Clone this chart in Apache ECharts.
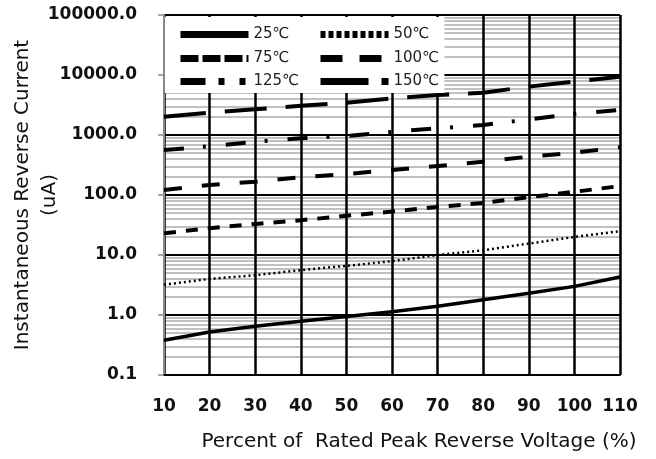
<!DOCTYPE html>
<html>
<head>
<meta charset="utf-8">
<script src="https://cdn.jsdelivr.net/npm/echarts@6/dist/echarts.min.js"></script>
<style>html,body{margin:0;padding:0;background:#fff}#c{width:656px;height:459px}</style>
</head>
<body>
<div id="c"></div>
<script>
const voltagePct = [10, 20, 30, 40, 50, 60, 70, 80, 90, 100, 110];
const seriesNames = ['25℃', '50℃', '75℃', '100℃', '125℃', '150℃'];
const t25  = [0.38, 0.52, 0.65, 0.79, 0.94, 1.13, 1.4, 1.8, 2.3, 3.0, 4.3];
const t50  = [3.2, 4.0, 4.6, 5.6, 6.6, 7.9, 10, 12, 15.5, 20, 25];
const t75  = [23, 28, 33, 38, 45, 53, 63, 74, 92, 113, 141];
const t100 = [121, 147, 167, 197, 224, 261, 304, 359, 435, 508, 623];
const t125 = [560, 650, 770, 880, 960, 1130, 1290, 1470, 1820, 2240, 2610];
const t150 = [2020, 2350, 2680, 3080, 3450, 4080, 4640, 5080, 6400, 7740, 9380];
const xTicks = [10, 20, 30, 40, 50, 60, 70, 80, 90, 100, 110];
const yTicks = [0.1, 1, 10, 100, 1000, 10000, 100000];
const minorMultipliers = [2, 3, 4, 5, 6, 7, 8, 9];

const allData = [t25, t50, t75, t100, t125, t150];
const dashes = ['solid', [2, 3], [12, 10], [18, 20], [20, 19, 3, 20], [42, 19]];
const widths = [3.5, 2.5, 4, 4, 4, 4];
const legendDashes = ['solid', [5, 3], [18, 4], [22, 17], [25, 13, 6, 15, 6], [48, 13, 8]];
const legendPos = [[177, 27], [317, 27], [177, 51], [317, 51], [177, 74], [317, 74]];

const minorVals = [];
for (let i = 0; i < yTicks.length - 1; i++) {
  minorMultipliers.forEach(m => minorVals.push(+(yTicks[i] * m).toPrecision(3)));
}

const series = allData.map((d, i) => ({
  name: seriesNames[i],
  type: 'line',
  data: voltagePct.map((x, j) => [x, d[j]]),
  symbol: 'none',
  z: 10,
  lineStyle: { color: '#000', width: widths[i], type: dashes[i], cap: 'butt' },
  itemStyle: { color: '#000' }
}));
series.push({
  name: 'minor',
  type: 'line',
  data: [],
  silent: true,
  markLine: {
    z: -1,
    silent: true,
    symbol: 'none',
    label: { show: false },
    lineStyle: { color: '#c0c0c0', width: 2, type: 'solid' },
    data: minorVals.map(v => ({ yAxis: v }))
  }
});

const legends = seriesNames.map((n, i) => ({
  show: true,
  data: [n],
  orient: 'horizontal',
  left: i === 0 ? 165 : legendPos[i][0],
  top: i === 0 ? 17 : legendPos[i][1],
  itemWidth: 68,
  itemHeight: 10,
  itemGap: 0,
  padding: i === 0 ? [10, 155, 51, 12] : 0,
  backgroundColor: i === 0 ? '#fff' : 'transparent',
  selectedMode: false,
  itemStyle: { opacity: 0, borderWidth: 0 },
  lineStyle: { width: 7, type: legendDashes[i], color: '#000', opacity: 1 },
  textStyle: { fontFamily: 'DejaVu Sans', fontSize: 15, color: '#222' },
  z: 60
}));

const chart = echarts.init(document.getElementById('c'), null, { renderer: 'canvas' });
chart.setOption({
  animation: false,
  backgroundColor: '#fff',
  grid: { left: 164, right: 36, top: 15, bottom: 84, containLabel: false, outerBoundsMode: 'none' },
  legend: legends,
  xAxis: {
    type: 'value', min: 10, max: 110, interval: 10,
    name: 'Percent of  Rated Peak Reverse Voltage (%)',
    nameLocation: 'middle', nameGap: 57, nameMoveOverlap: false,
    nameTextStyle: { fontFamily: 'DejaVu Sans', fontSize: 20, color: '#111', padding: [0, 0, 0, 54] },
    axisLine: { show: true, onZero: false, lineStyle: { color: '#000', width: 2 } },
    axisTick: { show: false },
    axisLabel: { margin: 23, fontFamily: 'DejaVu Sans', fontWeight: 'bold', fontSize: 17, color: '#111' },
    splitLine: { show: true, lineStyle: { color: '#000', width: 2.5 } }
  },
  yAxis: {
    type: 'log', logBase: 10, min: 0.1, max: 100000,
    name: 'Instantaneous Reverse Current\n(uA)',
    nameLocation: 'middle', nameGap: 101, nameRotate: 90, nameMoveOverlap: false,
    nameTextStyle: { fontFamily: 'DejaVu Sans', fontSize: 20, color: '#111', lineHeight: 27, align: 'center' },
    axisLine: { show: true, onZero: false, lineStyle: { color: '#888', width: 2 } },
    axisTick: { show: true, inside: false, length: 6, lineStyle: { color: '#888', width: 1.5 } },
    axisLabel: { margin: 27, fontFamily: 'DejaVu Sans', fontWeight: 'bold', fontSize: 17, color: '#111',
      formatter: v => Number(v).toFixed(1) },
    splitLine: { show: true, lineStyle: { color: '#000', width: 2 } }
  },
  series: series
});
</script>
</body>
</html>
